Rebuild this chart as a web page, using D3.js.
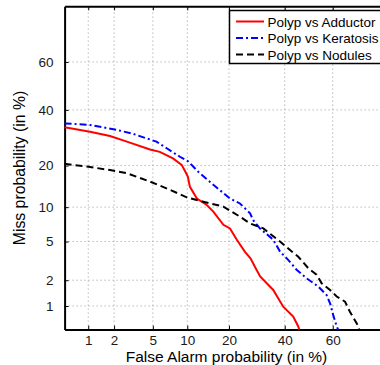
<!DOCTYPE html>
<html>
<head>
<meta charset="utf-8">
<script src="https://cdn.jsdelivr.net/npm/d3@7"></script>
<style>
  body { margin: 0; background: #fff; }
  svg { display: block; font-family: "Liberation Sans", Arial, sans-serif; }
</style>
</head>
<body>
<div id="chart"></div>
<script>
// DET curves, values in percent: [false alarm, miss]
var adductor = [
    [0.5, 33.1], [1.05, 31.4], [1.8, 29.8], [2.75, 27.8], [4.7, 25.1], [5.8, 24.3],
    [7.6, 22.2], [9.0, 20.2], [9.8, 17.8], [10.1, 16.9], [10.5, 14.3], [11.9, 11.7],
    [14.1, 10.4], [15.7, 9.2], [18.4, 7.1], [20.3, 6.6], [22.4, 5.2], [25, 4.0],
    [27, 3.4], [28.5, 2.8], [30.4, 2.2], [35.4, 1.55], [39.4, 0.98], [43.5, 0.74],
    [45.6, 0.55], [46, 0.5]
];
var keratosis = [
    [0.5, 34.6], [1.05, 34.0], [2.15, 32.1], [3.2, 30.6], [5.4, 27.8], [6.7, 25.5],
    [8.7, 22.7], [10.2, 21.2], [12.2, 18.2], [15.7, 14.8], [20.3, 11.7], [23.4, 10.7],
    [26.8, 8.9], [27.9, 7.8], [30.3, 6.6], [35.4, 5.2], [38.1, 4.0], [41.4, 3.3],
    [44.9, 2.6], [49.1, 2.1], [54.0, 1.7], [57.5, 1.35], [58.9, 1.08], [60.2, 0.77],
    [61.6, 0.55], [62.2, 0.5]
];
var nodules = [
    [0.5, 20.5], [0.96, 19.7], [1.8, 18.7], [2.75, 17.8], [4.7, 15.6], [7.15, 13.6],
    [9.9, 11.95], [13.3, 11.05], [18.4, 10.1], [23.4, 8.35], [26.8, 7.3], [31.6, 6.6],
    [34.8, 5.75], [38.1, 5.0], [42.9, 4.0], [45.6, 3.55], [49.8, 2.7], [53.3, 2.3],
    [55.4, 1.85], [58.9, 1.55], [61.6, 1.3], [64.9, 1.13], [66.8, 0.85], [70, 0.55],
    [70.3, 0.5]
];

var seriesNames = ["Polyp vs Adductor", "Polyp vs Keratosis", "Polyp vs Nodules"];
var tickLabels = [1, 2, 5, 10, 20, 40, 60];
var axisLimits = [0.5, 80];

// inverse normal cdf (Acklam)
function probit(p) {
    var a = [-3.969683028665376e+01, 2.209460984245205e+02, -2.759285104469687e+02, 1.383577518672690e+02, -3.066479806614716e+01, 2.506628277459239e+00];
    var b = [-5.447609879822406e+01, 1.615858368580409e+02, -1.556989798598866e+02, 6.680131188771972e+01, -1.328068155288572e+01];
    var c = [-7.784894002430293e-03, -3.223964580411365e-01, -2.400758277161838e+00, -2.549732539343734e+00, 4.374664141464968e+00, 2.938163982698783e+00];
    var d = [7.784695709041462e-03, 3.224671290700398e-01, 2.445134137142996e+00, 3.754408661907416e+00];
    var pl = 0.02425, q, r;
    if (p < pl) {
        q = Math.sqrt(-2 * Math.log(p));
        return (((((c[0]*q+c[1])*q+c[2])*q+c[3])*q+c[4])*q+c[5]) / ((((d[0]*q+d[1])*q+d[2])*q+d[3])*q+1);
    } else if (p <= 1 - pl) {
        q = p - 0.5; r = q * q;
        return (((((a[0]*r+a[1])*r+a[2])*r+a[3])*r+a[4])*r+a[5])*q / (((((b[0]*r+b[1])*r+b[2])*r+b[3])*r+b[4])*r+1);
    } else {
        q = Math.sqrt(-2 * Math.log(1 - p));
        return -(((((c[0]*q+c[1])*q+c[2])*q+c[3])*q+c[4])*q+c[5]) / ((((d[0]*q+d[1])*q+d[2])*q+d[3])*q+1);
    }
}
function pz(v) { return probit(v / 100); }

var totalWidth = 380, totalHeight = 365;

var svg = d3.select('#chart').append('svg')
    .attr('width', totalWidth)
    .attr('height', totalHeight);

var xScale = d3.scaleLinear()
    .domain([pz(axisLimits[0]), pz(axisLimits[1])])
    .range([64.6, 388.5]);
var yScale = d3.scaleLinear()
    .domain([pz(axisLimits[0]), pz(axisLimits[1])])
    .range([329.6, 6.3]);

var x0 = xScale.range()[0], x1 = xScale.range()[1];
var y0 = yScale.range()[0], y1 = yScale.range()[1];
var tickZ = tickLabels.map(pz);
function fmt(z) { return tickLabels[tickZ.indexOf(z)]; }

// dotted grid
var grid = svg.append('g');
grid.selectAll('.gx').data(tickZ).enter().append('line')
    .attr('x1', d => xScale(d)).attr('x2', d => xScale(d))
    .attr('y1', y0).attr('y2', y1)
    .attr('stroke', '#9a9a9a').attr('stroke-width', 1).attr('stroke-dasharray', '1,3');
grid.selectAll('.gy').data(tickZ).enter().append('line')
    .attr('y1', d => yScale(d)).attr('y2', d => yScale(d))
    .attr('x1', x0).attr('x2', x1)
    .attr('stroke', '#9a9a9a').attr('stroke-width', 1).attr('stroke-dasharray', '1,3');

// axes
var xAxis = d3.axisBottom(xScale).tickValues(tickZ).tickFormat(fmt)
    .tickSizeInner(-4).tickSizeOuter(0).tickPadding(6);
var yAxis = d3.axisLeft(yScale).tickValues(tickZ).tickFormat(fmt)
    .tickSizeInner(-4).tickSizeOuter(0).tickPadding(11);
var xTop = d3.axisTop(xScale).tickValues(tickZ).tickFormat('')
    .tickSizeInner(-4).tickSizeOuter(0);

var xAxisGroup = svg.append('g').attr('transform', `translate(0, ${y0})`).call(xAxis);
var yAxisGroup = svg.append('g').attr('transform', `translate(${x0}, 0)`).call(yAxis);
var xTopGroup = svg.append('g').attr('transform', `translate(0, ${y1})`).call(xTop);

[xAxisGroup, yAxisGroup, xTopGroup].forEach(function(g) {
    g.selectAll('.domain').attr('stroke', '#000').attr('stroke-width', 2);
    g.selectAll('line').attr('stroke', '#000').attr('stroke-width', 1);
    g.selectAll('text').attr('fill', '#1a1a1a').attr('font-size', 13.5)
        .attr('font-family', '"Liberation Sans", Arial, sans-serif');
});

// curves
var line = d3.line()
    .x(d => xScale(pz(d[0])))
    .y(d => yScale(pz(d[1])));

var styles = [
    { data: adductor, color: '#ff0000', dash: null },
    { data: keratosis, color: '#0000ff', dash: '7,3,2,3' },
    { data: nodules, color: '#000000', dash: '7,4' }
];

styles.forEach(function(s) {
    svg.append('path')
        .datum(s.data)
        .attr('d', line)
        .attr('fill', 'none')
        .attr('stroke', s.color)
        .attr('stroke-width', 2)
        .attr('stroke-dasharray', s.dash);
});

// legend
var legend = svg.append('g');
legend.append('rect')
    .attr('x', 229.5).attr('y', 10.5)
    .attr('width', 200).attr('height', 53)
    .attr('fill', '#fff').attr('stroke', '#000').attr('stroke-width', 1.5);
styles.forEach(function(s, i) {
    var ly = 21.5 + i * 16.5;
    legend.append('line')
        .attr('x1', 236).attr('x2', 264)
        .attr('y1', ly).attr('y2', ly)
        .attr('stroke', s.color).attr('stroke-width', 2)
        .attr('stroke-dasharray', s.dash);
    legend.append('text')
        .attr('x', 267.5).attr('y', ly + 5)
        .attr('font-size', 13.5).attr('fill', '#000')
        .text(seriesNames[i]);
});

// axis labels
svg.append('text')
    .attr('x', 226.5).attr('y', 361.5)
    .attr('text-anchor', 'middle')
    .attr('font-size', 15.5).attr('fill', '#000')
    .text('False Alarm probability (in %)');
svg.append('text')
    .attr('transform', 'translate(25, 168) rotate(-90)')
    .attr('text-anchor', 'middle')
    .attr('font-size', 15.8).attr('fill', '#000')
    .text('Miss probability (in %)');
</script>
</body>
</html>
